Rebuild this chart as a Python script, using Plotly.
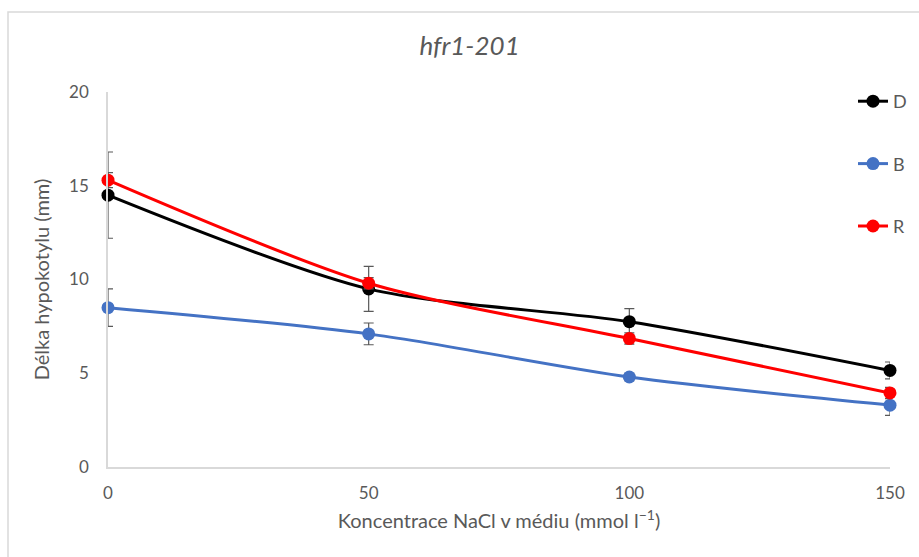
import plotly.graph_objects as go

conc = [0, 50, 100, 150]
d_vals = [14.5, 9.5, 7.75, 5.15]
d_err = [2.3, 1.2, 0.7, 0.45]
b_vals = [8.5, 7.1, 4.8, 3.3]
b_err = [1.0, 0.58, 0.2, 0.55]
r_vals = [15.3, 9.8, 6.85, 3.95]
r_err = [0.4, 0.3, 0.3, 0.3]

series = [("D", d_vals, d_err, "#000000"),
          ("B", b_vals, b_err, "#4472C4"),
          ("R", r_vals, r_err, "#FF0000")]

font_family = "Lato, 'DejaVu Sans Condensed', sans-serif"
gray = "#595959"

fig = go.Figure()
for name, vals, err, col in series:
    fig.add_trace(go.Scatter(
        x=conc, y=vals, name=name, legendgroup=name,
        mode="lines+markers",
        line=dict(color=col, width=3, shape="spline", smoothing=0.8),
        marker=dict(color=col, size=13),
        error_y=dict(type="data", array=err, visible=True, color=gray,
                     thickness=1.2, width=5),
        cliponaxis=False,
    ))

fig.update_layout(
    width=919, height=557,
    margin=dict(l=108, r=29, t=92, b=90, autoexpand=False),
    paper_bgcolor="white", plot_bgcolor="white",
    font=dict(family=font_family, color=gray, size=17),
    title=dict(text="<i>hfr1-201</i>", x=0.511, xanchor="center",
               y=0.918, yanchor="middle",
               font=dict(size=26, color=gray, family=font_family)),
    legend=dict(xref="container", yref="container",
                x=912 / 919, xanchor="right", y=1 - 83 / 557, yanchor="top",
                tracegroupgap=36, font=dict(size=18, color=gray),
                bgcolor="rgba(0,0,0,0)", itemwidth=30),
    showlegend=True,
)
fig.update_xaxes(range=[0, 150], tickvals=conc, ticktext=["0", "50", "100", "150"],
                 showgrid=False, zeroline=False, showline=True,
                 linecolor="#d9d9d9", linewidth=1.5, ticks="",
                 ticklabelstandoff=10,
                 title=dict(text="Koncentrace NaCl v médiu (mmol l<sup>−1</sup>)",
                            standoff=12, font=dict(size=20, color=gray)))
fig.update_yaxes(range=[0, 20], tickvals=[0, 5, 10, 15, 20],
                 showgrid=False, zeroline=False, showline=True,
                 linecolor="#d9d9d9", linewidth=1.5, ticks="",
                 ticklabelstandoff=14,
                 title=dict(text="Délka hypokotylu (mm)", standoff=14,
                            font=dict(size=20, color=gray)))

fig.add_shape(type="rect", xref="paper", yref="paper",
              x0=(8 - 108) / 782, x1=1.2, y0=-0.5, y1=(467 - 12) / 375,
              line=dict(color="#d9d9d9", width=1.5), fillcolor="rgba(0,0,0,0)",
              layer="below")

fig.write_html("out.html")
